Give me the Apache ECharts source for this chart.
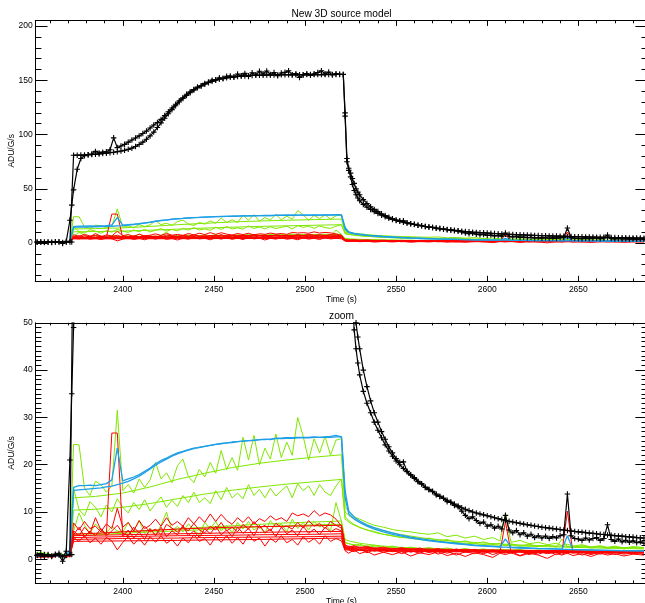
<!DOCTYPE html>
<html><head><meta charset="utf-8">
<script src="https://cdn.jsdelivr.net/npm/echarts@6/dist/echarts.min.js"></script>
<style>html,body{margin:0;padding:0;background:#fff}#c{width:645px;height:603px}</style>
</head><body><div id="c"></div>
<script>
// ---------- tick values ----------
const xMajorTicks = [2400,2450,2500,2550,2600,2650];
const xMinorTicks = [2360,2370,2380,2390,2410,2420,2430,2440,2460,2470,2480,2490,2510,2520,2530,2540,2560,2570,2580,2590,2610,2620,2630,2640,2660,2670,2680];
const yMajorTop = [0,50,100,150,200];
const yMinorTop = [-30,-20,-10,10,20,30,40,60,70,80,90,110,120,130,140,160,170,180,190];
const yMajorZoom = [0,10,20,30,40,50];
const yMinorZoom = [-4,-3,-2,-1,1,2,3,4,5,6,7,8,9,11,12,13,14,15,16,17,18,19,21,22,23,24,25,26,27,28,29,31,32,33,34,35,36,37,38,39,41,42,43,44,45,46,47,48,49];

// ---------- time grids ----------
const tN = [2353,2357,2361,2365,2369,2371,
2373,2376,2379,2382,2385,2388,2391,2394,2397,2400,
2403,2406,2409,2412,2415,2418,2421,2424,2427,2430,
2433,2436,2439,2442,2445,2448,2451,2454,2457,2460,
2463,2466,2469,2472,2475,2478,2481,2484,2487,2490,
2493,2496,2499,2502,2505,2508,2511,2514,2517,2520,
2522,2524,2527,2530,2534,2538,2543,2548,2553,2558,
2563,2568,2573,2578,2583,2588,2593,2598,2603,2607,
2610,2613,2618,2623,2628,2633,2638,2641,2644,2647,
2652,2657,2662,2666,2670,2675,2680,2686];
const tS = [2353,2371,2373,2385,2400,2415,2430,2445,2460,2475,2490,2505,2520,2522,2525,2530,2540,2550,2565,2580,2600,2620,2640,2660,2686];
const tK = [2353,2355,2357,2359,2361,2363,2365,2367,2369,2371,
2372,2373,2375,2377,2379,
2381,2383,2385,2387,2389,2391,2393,2395,2397,2399,
2401,2403,2405,2407,2409,2411,2413,2415,2417,2419,
2421,2423,2425,2427,2429,2431,2433,2435,2437,2439,
2441,2443,2445,2447,2449,2451,2453,2455,2457,2459,
2461,2463,2465,2467,2469,2471,2473,2475,2477,2479,
2481,2483,2485,2487,2489,2491,2493,2495,2497,2499,
2501,2503,2505,2507,2509,2511,2513,2515,2517,2519,
2521,2522,2523,2524,2525,2526,2527,2528,2529,2530,
2532,2534,2536,2538,2540,2542,2544,2546,2548,2550,
2552,2554,2556,2558,2560,2562,2564,2566,2568,2570,
2572,2574,2576,2578,2580,2582,2584,2586,2588,2590,
2592,2594,2596,2598,2600,2602,2604,2606,2608,2610,
2612,2614,2616,2618,2620,2622,2624,2626,2628,2630,
2632,2634,2636,2638,2640,2642,2644,2646,2648,2650,
2652,2654,2656,2658,2660,2662,2664,2666,2668,2670,
2672,2674,2676,2678,2680,2682,2684,2686];

// ---------- blue ----------
const blue1 = [0.8,0.9,0.7,0.8,0.9,1.5,
15.2,15.6,15.6,15.7,15.6,15.8,16.0,16.8,23.5,16.6,
17.0,17.4,17.9,18.6,19.3,20.2,20.9,21.4,22.0,22.5,
22.8,23.2,23.5,23.6,23.9,24.1,24.3,24.4,24.6,24.7,
24.9,25.0,25.1,25.1,25.3,25.4,25.3,25.6,25.6,25.7,
25.7,25.8,25.8,25.8,25.9,25.8,25.9,26.0,26.2,25.9,
14.5,10.2,8.9,8.1,7.3,6.7,6.1,5.6,5.1,4.7,
4.4,4.1,3.8,3.6,3.4,3.2,3.0,2.9,2.8,2.7,
4.3,2.6,2.5,2.4,2.3,2.25,2.2,2.15,5.0,2.1,
2.05,2.0,1.95,1.9,1.9,1.85,1.85,1.8];
const blue2 = [0.7,0.8,0.9,0.7,1.0,2.0,
14.6,14.7,14.8,14.9,15.0,15.1,15.3,15.5,15.8,16.1,
16.5,17.0,17.6,18.3,19.1,19.9,20.6,21.2,21.8,22.3,
22.7,23.1,23.4,23.7,23.9,24.1,24.3,24.5,24.6,24.8,
24.9,25.0,25.1,25.2,25.3,25.3,25.4,25.5,25.5,25.6,
25.6,25.7,25.7,25.7,25.8,25.8,25.8,25.8,25.9,25.9,
13.0,9.6,8.5,7.8,7.0,6.4,5.8,5.3,4.9,4.5,
4.2,3.9,3.7,3.5,3.3,3.1,2.9,2.8,2.7,2.6,
2.6,2.5,2.4,2.3,2.25,2.2,2.15,2.1,2.1,2.05,
2.0,1.95,1.9,1.9,1.85,1.85,1.8,1.8];

// ---------- green noisy ----------
const green1 = [1.6,1.2,0.9,1.1,0.8,1.3,
24.3,24.2,15.0,13.5,16.5,15.8,14.2,15.5,31.5,14.5,
15.8,14.0,17.0,15.2,16.8,20.5,17.0,18.3,16.2,19.8,
21.2,17.5,16.2,19.0,17.4,20.5,18.2,23.0,19.0,21.5,
18.8,25.8,21.0,26.2,20.0,23.5,21.2,26.5,21.5,24.8,
22.0,30.0,26.0,21.0,25.5,22.5,26.0,22.0,25.2,25.5,
11.0,10.2,9.0,8.5,7.8,7.2,6.8,6.3,6.0,5.8,
5.5,5.3,5.6,4.8,5.1,4.5,4.9,4.2,4.6,3.9,
9.8,3.6,4.0,3.3,3.6,3.1,3.4,2.9,3.2,2.8,
3.1,2.6,2.9,2.5,2.8,2.4,2.7,2.5];
const green2 = [1.3,1.0,0.7,1.2,0.9,1.1,
15.0,10.5,9.2,12.2,11.0,9.0,11.5,10.0,12.8,11.0,
9.8,12.0,10.5,12.6,10.2,11.8,13.2,11.0,12.5,11.2,
13.5,12.0,14.2,12.0,13.0,11.8,14.5,12.6,15.2,13.0,
14.0,12.8,15.8,13.5,14.8,13.0,15.0,13.4,14.5,15.5,
13.0,16.0,14.5,15.5,13.5,15.8,14.2,13.5,15.5,17.0,
9.0,8.2,7.4,6.8,6.2,5.9,5.3,5.0,4.6,4.8,
4.2,4.5,3.9,4.2,3.6,3.9,3.3,3.7,3.1,3.4,
3.0,3.3,2.8,3.2,2.7,3.0,2.6,4.3,2.7,2.5,
2.9,2.4,2.7,2.3,2.6,2.2,2.5,2.3];
const green3 = [0.9,1.4,1.0,0.6,1.2,0.8,
6.0,9.8,7.2,5.5,7.5,6.2,5.6,7.0,6.0,5.8,
7.8,6.0,8.2,5.5,6.5,5.2,7.2,10.0,6.0,7.0,
5.8,7.5,6.2,5.2,7.8,6.5,8.0,6.0,7.2,5.6,
7.8,6.4,8.0,6.2,7.0,5.5,8.2,6.8,7.5,5.8,
8.5,6.5,7.8,6.2,8.0,6.8,7.5,6.0,12.0,8.0,
3.5,3.3,3.0,3.2,2.7,3.0,2.5,2.8,2.3,2.6,
2.2,2.5,2.1,2.4,2.0,2.3,1.9,2.2,1.8,2.1,
2.0,1.9,2.1,1.7,2.0,1.8,1.6,1.9,1.7,1.9,
1.6,1.9,1.7,1.8,1.6,1.9,1.7,1.8];

// ---------- green smooth (tS) ----------
const greenS1 = [0.9,1.0,13.0,13.3,14.0,15.3,16.9,18.2,19.4,20.3,21.0,21.6,22.1,10.0,9.0,7.8,6.3,5.4,4.5,3.9,3.4,3.0,2.8,2.6,2.4];
const greenS2 = [0.8,1.1,10.4,10.6,11.0,11.8,12.8,13.8,14.6,15.3,15.9,16.4,16.9,8.5,7.6,6.7,5.5,4.8,4.1,3.6,3.1,2.8,2.6,2.4,2.2];
const greenS3 = [0.7,0.9,5.4,5.5,5.8,6.1,6.4,6.8,7.1,7.4,7.7,7.9,8.1,4.2,3.8,3.4,2.9,2.6,2.3,2.1,2.0,1.9,1.8,1.75,1.7];
const greenS4 = [0.6,1.0,5.0,5.2,5.5,5.8,6.0,6.3,6.6,6.9,7.1,7.3,7.4,3.6,3.2,2.9,2.6,2.4,2.2,2.0,1.9,1.8,1.7,1.65,1.6];

// ---------- red noisy ----------
const red1 = [0.5,0.9,0.4,0.8,0.6,1.0,
7.7,6.2,8.0,6.5,7.0,5.8,7.5,6.5,10.8,6.8,
7.8,6.0,8.2,6.5,7.2,8.5,7.0,8.8,7.2,8.0,
7.0,8.8,7.5,9.0,7.8,9.6,8.0,9.5,8.2,7.4,
8.8,7.8,9.0,7.5,8.6,8.0,9.2,8.3,8.8,8.0,
9.8,9.2,9.6,9.0,10.3,9.2,9.8,9.4,8.5,7.0,
3.0,2.6,2.9,2.4,2.8,2.2,2.6,2.0,2.5,1.9,
2.4,1.8,2.3,1.6,2.2,1.7,2.1,1.5,2.0,1.6,
8.0,1.5,1.9,1.2,1.8,1.4,1.9,1.5,10.2,1.4,
1.8,1.2,1.7,1.4,1.8,1.3,1.7,1.5];
const red2 = [0.8,0.4,1.0,0.6,0.9,0.5,
5.2,6.8,4.8,6.0,5.0,6.5,5.2,26.7,26.7,4.8,
6.2,4.5,5.8,4.2,6.5,5.0,6.8,4.8,6.0,5.2,
7.2,5.0,6.0,4.6,6.5,5.4,7.0,5.2,6.2,4.8,
6.8,5.5,6.5,5.0,7.2,5.6,6.4,4.8,6.8,5.4,
6.2,5.0,7.0,5.5,6.4,5.2,6.8,5.8,6.5,6.0,
2.4,2.0,1.6,2.2,1.4,2.0,1.5,1.9,1.2,1.8,
1.3,2.0,1.1,1.7,0.9,1.6,1.2,1.8,1.0,1.5,
1.3,1.7,0.8,1.6,1.1,1.7,1.0,1.6,1.2,1.7,
0.9,1.5,1.1,1.6,1.0,1.5,1.2,1.4];
const red3 = [0.6,0.8,0.5,1.0,0.4,0.7,
4.6,3.8,5.0,3.5,4.5,3.2,4.6,3.9,2.0,3.6,
4.8,3.2,4.4,3.0,4.8,3.6,5.0,3.4,4.2,2.8,
4.5,3.5,5.2,3.8,4.4,3.0,4.8,3.6,5.0,3.4,
4.6,3.2,5.2,3.8,4.5,2.8,4.4,3.6,5.0,3.5,
4.2,3.0,4.8,3.6,4.4,3.2,5.0,3.8,4.4,3.9,
1.8,1.3,2.0,1.2,1.7,0.9,1.5,1.0,1.6,0.7,
1.4,1.0,1.6,0.8,1.3,0.6,1.4,1.0,0.4,1.3,
1.0,1.4,0.7,1.3,0.9,0.2,1.2,0.9,1.3,0.8,
1.2,0.6,1.3,0.9,1.2,0.7,1.1,0.9];
const red4 = [0.7,0.5,0.9,0.8,0.5,0.9,
6.0,5.0,6.8,5.5,8.8,6.2,5.0,6.0,7.2,5.5,
5.0,6.8,5.6,7.0,5.8,6.4,5.2,7.4,6.6,5.8,
6.8,6.0,7.6,6.2,5.6,7.0,6.2,7.8,6.0,6.8,
5.8,7.4,6.4,8.0,6.6,7.2,6.0,7.6,6.8,7.0,
6.4,7.8,6.6,8.2,7.0,7.6,6.5,8.0,7.2,6.6,
2.6,2.2,2.5,1.9,2.3,1.7,2.2,1.6,2.1,1.5,
2.0,1.4,1.9,1.3,1.8,1.5,1.7,1.2,1.8,1.4,
1.6,1.3,1.7,1.0,1.6,1.2,1.5,1.1,1.6,1.3,
1.5,1.0,1.6,1.2,1.5,1.1,1.4,1.3];

// ---------- red smooth (tS) ----------
const redS1 = [0.6,0.9,5.3,5.5,5.8,6.1,6.4,6.6,6.8,6.9,7.0,7.1,7.2,2.9,2.7,2.6,2.4,2.3,2.2,2.1,2.0,1.9,1.85,1.8,1.75];
const redS2 = [0.7,0.8,5.0,5.1,5.2,5.3,5.4,5.5,5.6,5.7,5.8,5.85,5.9,2.6,2.5,2.4,2.25,2.15,2.05,1.95,1.85,1.8,1.75,1.7,1.65];
const redS3 = [0.5,0.7,4.6,4.7,4.8,4.9,5.0,5.05,5.1,5.2,5.25,5.3,5.4,2.4,2.3,2.2,2.1,2.0,1.9,1.85,1.75,1.7,1.65,1.6,1.55];
const redS4 = [0.6,0.8,4.2,4.3,4.4,4.45,4.5,4.6,4.65,4.7,4.75,4.8,4.9,2.2,2.1,2.0,1.9,1.85,1.75,1.7,1.6,1.55,1.5,1.5,1.45];
const redS5 = [0.5,0.7,3.8,3.85,3.9,3.95,4.0,4.1,4.15,4.2,4.3,4.4,4.5,2.0,1.95,1.9,1.8,1.7,1.65,1.6,1.55,1.5,1.45,1.4,1.4];

// ---------- black (tK) ----------
const blackModel = [0.9,0.7,1.0,0.8,0.6,1.1,0.9,-0.4,0.8,1.0,
1.0,81.0,81.0,81.1,81.2,
81.4,81.6,81.9,82.2,82.5,82.9,83.3,83.7,84.2,84.8,
85.5,86.4,87.5,89.0,90.8,93.0,95.7,98.8,102.3,106.5,
110.8,115.0,119.2,123.0,126.6,130.0,133.2,136.0,138.6,141.0,
143.1,144.9,146.5,147.9,149.1,150.1,151.0,151.7,152.3,152.8,
153.2,153.6,153.9,154.1,154.3,154.5,154.6,154.7,154.8,154.9,
154.9,155.0,155.0,155.1,155.1,155.1,155.2,155.2,155.2,155.2,
155.3,155.3,155.3,155.3,155.3,155.3,155.4,155.4,155.4,155.4,
155.4,117.0,75.0,67.0,61.0,54.0,48.5,44.5,41.5,39.0,
35.5,33.0,31.0,29.0,27.3,25.7,24.2,22.9,21.8,20.8,
20.0,19.2,18.5,17.8,17.1,16.5,15.9,15.3,14.8,14.3,
13.8,13.3,12.9,12.5,12.1,11.7,11.3,10.9,10.6,10.3,
10.0,9.8,9.6,9.4,9.2,9.0,8.8,8.6,8.4,8.2,
8.05,7.9,7.75,7.6,7.45,7.3,7.2,7.05,6.95,6.8,
6.7,6.6,6.5,6.4,6.3,6.2,6.1,6.0,5.9,5.8,
5.75,5.65,5.55,5.5,5.4,5.3,5.25,5.15,5.1,5.0,
4.95,4.9,4.8,4.75,4.7,4.6,4.55,4.5];
const blackData = [0.8,1.2,0.6,1.0,0.7,0.9,1.3,0.5,1.7,21.0,
35.0,49.0,68.0,78.0,80.5,
81.5,82.0,84.5,83.0,83.8,84.2,86.0,97.0,88.0,89.5,
91.0,93.0,95.0,96.8,98.8,101.0,103.2,106.0,108.8,111.2,
114.0,117.5,121.0,124.5,128.0,131.2,134.0,137.2,139.5,141.5,
143.8,145.0,147.2,148.5,150.2,150.6,152.4,151.6,153.8,154.0,
153.0,155.8,154.2,156.4,153.6,157.0,155.2,158.4,156.0,158.6,
155.4,157.2,154.2,156.8,157.4,158.8,155.0,156.2,152.6,155.0,
156.2,154.6,156.0,157.2,158.8,156.0,157.6,155.0,156.2,155.6,
155.5,120.0,78.0,69.0,64.5,59.5,55.0,50.0,47.0,44.5,
40.0,36.5,33.5,31.0,29.0,27.0,25.4,23.8,22.5,21.3,
20.5,20.6,18.6,17.9,17.3,16.4,16.0,15.2,14.7,14.4,
13.6,13.3,12.9,12.2,12.0,11.4,11.1,10.2,9.3,8.6,
9.0,8.2,7.6,7.9,7.0,7.3,6.6,7.0,6.4,9.3,
6.2,5.6,6.1,5.2,5.6,4.9,5.3,4.6,5.0,4.5,
4.9,4.4,4.8,4.5,5.0,5.2,13.8,5.0,4.4,4.3,
4.0,4.5,4.1,4.4,4.6,4.0,4.4,7.3,4.2,3.8,
4.3,3.7,4.0,3.6,3.9,3.5,3.7,3.4];

// ---------- styling ----------
const FONT = '"Liberation Sans", Arial, sans-serif';
const GREEN = '#80e800', RED = '#ff0000', BLUE = '#1e9fe8', BLACK = '#000000';
const PLUS = 'path://M2,0h1v2h2v1h-2v2h-1v-2h-2v-1h2z';
const X_MIN = 2352, X_MAX = 2688;

const zip = (t, v) => t.map((x, i) => [x, v[i]]);

const defs = [
  [tS, greenS1, GREEN, 1, false], [tS, greenS2, GREEN, 1, false], [tS, greenS3, GREEN, 1, false], [tS, greenS4, GREEN, 1, false],
  [tN, green1, GREEN, 1, false], [tN, green2, GREEN, 1, false], [tN, green3, GREEN, 1, false],
  [tS, redS1, RED, 1, false], [tS, redS2, RED, 1, false], [tS, redS3, RED, 1, false], [tS, redS4, RED, 1, false], [tS, redS5, RED, 1, false],
  [tN, red1, RED, 1, false], [tN, red2, RED, 1, false], [tN, red3, RED, 1, false], [tN, red4, RED, 1, false],
  [tN, blue1, BLUE, 1.3, false], [tN, blue2, BLUE, 1.3, false],
  [tK, blackModel, BLACK, 1.2, true], [tK, blackData, BLACK, 1.2, true]
];

const panels = [
  {top: 20.7, height: 260.3, ymin: -35, ymax: 205, yMaj: yMajorTop, yMin: yMinorTop, title: 'New 3D source model', titleTop: 9},
  {top: 322.8, height: 260.2, ymin: -5, ymax: 50, yMaj: yMajorZoom, yMin: yMinorZoom, title: 'zoom', titleTop: 311}
];

const grids = [], xAxes = [], yAxes = [], series = [], titles = [];
const lab = {fontFamily: FONT, fontSize: 8.5, color: '#000'};
const line = {lineStyle: {color: '#000', width: 1}};

panels.forEach((p, gi) => {
  grids.push({left: 35.3, width: 612.3, top: p.top, height: p.height, containLabel: false, outerBoundsMode: 'none'});
  titles.push({text: p.title, left: 341.5, top: p.titleTop, textAlign: 'center', padding: 0,
    textStyle: {fontFamily: FONT, fontSize: 10.2, fontWeight: 'normal', color: '#000'}});
  const xb = {type: 'value', gridIndex: gi, min: X_MIN, max: X_MAX, splitLine: {show: false}};
  xAxes.push(Object.assign({}, xb, {position: 'bottom',
    axisLine: Object.assign({onZero: false, show: true}, line),
    axisTick: {inside: true, length: 5.2, customValues: xMajorTicks, lineStyle: {color: '#000'}},
    axisLabel: Object.assign({customValues: xMajorTicks, margin: 4, formatter: v => String(v)}, lab),
    name: 'Time (s)', nameLocation: 'middle', nameGap: 12,
    nameTextStyle: {fontFamily: FONT, fontSize: 8.5, color: '#000'}}));
  xAxes.push(Object.assign({}, xb, {position: 'bottom',
    axisLine: {onZero: false, show: false},
    axisTick: {inside: true, length: 2.6, customValues: xMinorTicks, lineStyle: {color: '#000'}},
    axisLabel: {show: false}}));
  xAxes.push(Object.assign({}, xb, {position: 'top',
    axisLine: Object.assign({onZero: false, show: true}, line),
    axisTick: {inside: true, length: 5.2, customValues: xMajorTicks, lineStyle: {color: '#000'}},
    axisLabel: {show: false}}));
  xAxes.push(Object.assign({}, xb, {position: 'top',
    axisLine: {onZero: false, show: false},
    axisTick: {inside: true, length: 2.6, customValues: xMinorTicks, lineStyle: {color: '#000'}},
    axisLabel: {show: false}}));

  const yb = {type: 'value', gridIndex: gi, min: p.ymin, max: p.ymax, splitLine: {show: false}};
  yAxes.push(Object.assign({}, yb, {position: 'left',
    axisLine: Object.assign({onZero: false, show: true}, line),
    axisTick: {inside: true, length: 12.2, customValues: p.yMaj, lineStyle: {color: '#000'}},
    axisLabel: Object.assign({customValues: p.yMaj, margin: 2.6, formatter: v => String(v)}, lab),
    name: 'ADU/G/s', nameLocation: 'middle', nameGap: 19.5, nameRotate: 90, nameMoveOverlap: false,
    nameTextStyle: {fontFamily: FONT, fontSize: 8.5, color: '#000'}}));
  yAxes.push(Object.assign({}, yb, {position: 'left',
    axisLine: {onZero: false, show: false},
    axisTick: {inside: true, length: 6.1, customValues: p.yMin, lineStyle: {color: '#000'}},
    axisLabel: {show: false}}));
  yAxes.push(Object.assign({}, yb, {position: 'right',
    axisLine: Object.assign({onZero: false, show: true}, line),
    axisTick: {inside: true, length: 12.2, customValues: p.yMaj, lineStyle: {color: '#000'}},
    axisLabel: {show: false}}));
  yAxes.push(Object.assign({}, yb, {position: 'right',
    axisLine: {onZero: false, show: false},
    axisTick: {inside: true, length: 6.1, customValues: p.yMin, lineStyle: {color: '#000'}},
    axisLabel: {show: false}}));

  defs.forEach((d, k) => {
    const [t, v, color, width, marks] = d;
    series.push({
      type: 'line', xAxisIndex: gi * 4, yAxisIndex: gi * 4,
      data: zip(t, v), clip: true, silent: true, animation: false,
      symbol: marks ? PLUS : 'none', symbolSize: 5.5, showSymbol: marks,
      itemStyle: {color: color},
      lineStyle: {color: color, width: width},
      z: 2 + k * 0.01
    });
  });
});

const chart = echarts.init(document.getElementById('c'), null, {renderer: 'canvas', width: 645, height: 603});
chart.setOption({
  backgroundColor: '#fff',
  animation: false,
  title: titles,
  grid: grids,
  xAxis: xAxes,
  yAxis: yAxes,
  series: series
});
</script>
</body></html>
